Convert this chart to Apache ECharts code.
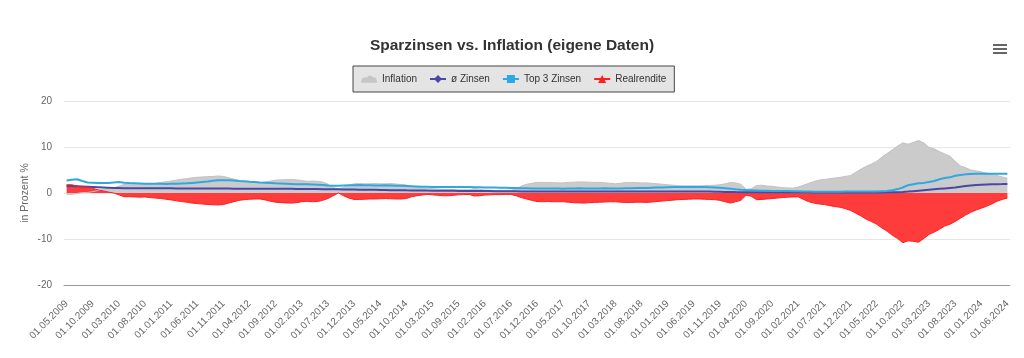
<!DOCTYPE html>
<html><head><meta charset="utf-8">
<script src="https://cdn.jsdelivr.net/npm/echarts@6/dist/echarts.min.js"></script>
<style>html,body{margin:0;padding:0;background:#fff}#c{width:1024px;height:358px}</style>
</head><body><div id="c"></div>
<script>
// Categories: monthly from 01.05.2009 to 01.06.2024 (source data skips one month in 2015)
const skippedMonth = '01.06.2015';
const categories = [];
(function () {
  let y = 2009, m = 5;
  while (y < 2024 || (y === 2024 && m <= 6)) {
    const s = '01.' + String(m).padStart(2, '0') + '.' + y;
    if (s !== skippedMonth) categories.push(s);
    m++; if (m > 12) { m = 1; y++; }
  }
})();

const yTicks = [-20, -10, 0, 10, 20];

const inflation = [
  -0.3,-0.3,-0.1,0.1,0.1,0.3,0.55,0.8,0.95,1.1,
  1.5,1.85,1.85,1.9,1.9,1.9,2.0,2.1,2.3,2.45,
  2.6,2.8,3.0,3.1,3.3,3.4,3.5,3.55,3.6,3.7,
  3.6,3.3,3.0,2.7,2.5,2.4,2.3,2.25,2.4,2.6,
  2.8,2.85,2.9,2.95,2.85,2.7,2.55,2.6,2.55,2.4,
  1.9,1.2,0.9,1.2,1.7,2.0,2.05,2.0,2.0,2.05,
  2.0,2.0,2.05,1.95,1.85,1.75,1.4,1.2,1.1,1.0,
  0.95,0.85,0.8,0.8,0.75,0.7,0.7,0.7,0.95,0.8,
  0.65,0.6,0.55,0.6,0.6,0.6,0.9,1.5,1.9,2.1,
  2.3,2.3,2.3,2.25,2.2,2.2,2.3,2.35,2.4,2.4,
  2.35,2.3,2.3,2.2,2.1,2.0,2.1,2.3,2.3,2.25,
  2.2,2.2,2.1,2.0,1.9,1.8,1.7,1.6,1.55,1.55,
  1.55,1.55,1.6,1.65,1.7,1.8,2.0,2.3,2.2,1.9,
  0.8,0.9,1.6,1.7,1.5,1.45,1.3,1.15,1.1,1.05,
  1.3,1.7,2.1,2.5,2.8,2.95,3.1,3.25,3.4,3.6,
  3.8,4.5,5.2,5.8,6.3,6.9,7.8,8.6,9.4,10.2,
  10.9,10.6,11.0,11.4,10.9,9.9,9.6,9.0,8.5,8.0,
  6.9,5.9,5.5,5.0,4.8,4.6,4.3,4.1,3.8,3.5,3.2
];

const avgRate = [
  1.5,1.5,1.45,1.4,1.35,1.3,1.25,1.2,1.15,1.1,
  1.1,1.05,1.05,1.05,1.05,1.05,1.05,1.05,1.05,1.05,
  1.05,1.0,1.0,1.0,1.0,1.0,1.0,1.0,1.0,1.0,
  1.0,1.0,0.95,0.95,0.95,0.95,0.95,0.9,0.9,0.9,
  0.9,0.9,0.9,0.9,0.88,0.88,0.87,0.85,0.85,0.83,
  0.82,0.8,0.8,0.78,0.77,0.75,0.73,0.72,0.7,0.68,
  0.66,0.64,0.62,0.61,0.6,0.58,0.57,0.55,0.54,0.52,
  0.51,0.5,0.49,0.48,0.47,0.46,0.45,0.45,0.44,0.43,
  0.42,0.41,0.4,0.39,0.38,0.37,0.36,0.35,0.34,0.33,
  0.32,0.31,0.3,0.3,0.3,0.3,0.3,0.3,0.3,0.3,
  0.3,0.3,0.3,0.3,0.3,0.3,0.3,0.3,0.3,0.3,
  0.3,0.3,0.32,0.33,0.34,0.35,0.35,0.35,0.35,0.35,
  0.34,0.33,0.32,0.3,0.28,0.26,0.24,0.22,0.2,0.19,
  0.18,0.17,0.17,0.16,0.16,0.15,0.15,0.15,0.15,0.15,
  0.15,0.14,0.14,0.13,0.13,0.12,0.12,0.12,0.12,0.12,
  0.12,0.12,0.12,0.12,0.12,0.12,0.13,0.14,0.16,0.18,
  0.22,0.3,0.4,0.5,0.6,0.7,0.8,0.9,1.0,1.1,
  1.2,1.35,1.5,1.65,1.75,1.8,1.85,1.9,1.92,1.93,1.95
];

const top3Rate = [
  2.7,2.9,3.0,2.6,2.3,2.25,2.2,2.2,2.2,2.3,
  2.4,2.25,2.15,2.1,2.05,2.0,2.0,2.0,2.0,1.95,
  2.0,2.0,2.05,2.1,2.2,2.3,2.4,2.5,2.65,2.75,
  2.75,2.75,2.7,2.6,2.55,2.45,2.4,2.3,2.25,2.2,
  2.1,2.05,2.0,1.95,1.9,1.9,1.9,1.85,1.8,1.75,
  1.65,1.6,1.6,1.65,1.7,1.7,1.75,1.7,1.7,1.65,
  1.65,1.7,1.65,1.6,1.55,1.5,1.45,1.4,1.35,1.35,
  1.3,1.3,1.3,1.3,1.3,1.3,1.3,1.3,1.25,1.25,
  1.2,1.2,1.2,1.15,1.15,1.1,1.1,1.05,1.05,1.0,
  1.0,1.0,1.0,1.0,1.0,0.95,1.0,1.0,1.05,1.0,
  1.0,1.0,1.0,1.05,1.0,1.0,1.0,1.05,1.05,1.1,
  1.1,1.1,1.15,1.2,1.2,1.25,1.3,1.3,1.3,1.3,
  1.3,1.3,1.3,1.25,1.2,1.15,1.05,0.95,0.8,0.72,
  0.65,0.6,0.55,0.5,0.5,0.45,0.45,0.45,0.45,0.4,
  0.4,0.35,0.3,0.25,0.25,0.25,0.25,0.25,0.25,0.3,
  0.3,0.3,0.3,0.3,0.35,0.35,0.4,0.45,0.6,0.85,
  1.2,1.7,1.9,2.1,2.2,2.4,2.6,3.0,3.25,3.4,
  3.75,3.9,4.05,4.15,4.2,4.2,4.2,4.2,4.2,4.2,4.2
];

const realReturn = [
  1.8,1.8,1.5,1.35,1.3,1.0,0.7,0.45,0.2,0.0,
  -0.4,-0.8,-0.8,-0.85,-0.9,-0.85,-1.0,-1.1,-1.2,-1.35,
  -1.5,-1.7,-1.85,-2.0,-2.2,-2.3,-2.4,-2.5,-2.55,-2.6,
  -2.5,-2.2,-1.9,-1.6,-1.45,-1.35,-1.3,-1.3,-1.5,-1.8,
  -2.0,-2.1,-2.15,-2.2,-2.1,-1.9,-1.8,-1.9,-1.85,-1.6,
  -1.2,-0.6,0.0,-0.6,-1.1,-1.4,-1.4,-1.35,-1.3,-1.3,
  -1.25,-1.2,-1.25,-1.3,-1.3,-1.2,-0.8,-0.6,-0.45,-0.3,
  -0.4,-0.5,-0.6,-0.6,-0.5,-0.4,-0.35,-0.3,-0.65,-0.6,
  -0.45,-0.4,-0.35,-0.35,-0.3,-0.3,-0.6,-1.0,-1.3,-1.6,
  -1.85,-1.9,-1.85,-1.9,-1.9,-1.9,-2.0,-2.1,-2.15,-2.2,
  -2.1,-2.05,-2.0,-1.95,-1.9,-1.9,-2.0,-2.05,-2.05,-2.0,
  -2.0,-2.05,-1.95,-1.85,-1.75,-1.65,-1.55,-1.45,-1.4,-1.35,
  -1.3,-1.3,-1.35,-1.4,-1.45,-1.6,-1.9,-2.2,-1.9,-1.6,
  -0.5,-0.7,-1.45,-1.4,-1.3,-1.2,-1.1,-1.0,-0.9,-0.85,
  -0.85,-1.4,-1.9,-2.2,-2.4,-2.5,-2.75,-2.95,-3.1,-3.4,
  -3.8,-4.4,-5.0,-5.7,-6.2,-6.8,-7.6,-8.3,-9.2,-9.9,
  -10.8,-10.4,-10.5,-10.7,-9.9,-9.0,-8.5,-7.9,-7.2,-6.8,
  -6.2,-5.5,-4.8,-4.2,-3.7,-3.3,-2.9,-2.4,-1.8,-1.4,-1.1
];

const FONT = '"Liberation Sans", Arial, Helvetica, sans-serif';
const chart = echarts.init(document.getElementById('c'), null, { renderer: 'canvas' });
chart.setOption({
  animation: false,
  backgroundColor: '#ffffff',
  textStyle: { fontFamily: FONT },
  title: {
    text: 'Sparzinsen vs. Inflation (eigene Daten)',
    left: 'center', top: 38, padding: 0,
    textStyle: { fontSize: 15.5, fontWeight: 'bold', color: '#333333', fontFamily: FONT }
  },
  legend: {
    top: 66, left: 353,
    padding: [8, 8],
    itemGap: 12, itemWidth: 16, itemHeight: 10,
    backgroundColor: '#e4e4e4', borderColor: '#444444', borderWidth: 1,
    textStyle: { fontSize: 10, color: '#333333', fontFamily: FONT },
    data: [
      { name: 'Inflation', icon: 'path://M0,10 C0,6 3,4 6,5 C7,2 11,2 12,5 C14,4 16,6 16,10 Z', itemStyle: { color: '#c6c6c6' } },
      { name: 'ø Zinsen' },
      { name: 'Top 3 Zinsen' },
      { name: 'Realrendite' }
    ]
  },
  grid: { left: 64, right: 14, top: 101, bottom: 73, containLabel: false },
  xAxis: {
    type: 'category', data: categories, boundaryGap: true,
    axisLine: { show: true, onZero: false, lineStyle: { color: '#999999' } },
    axisTick: { show: false },
    splitLine: { show: false },
    axisLabel: { interval: 4, rotate: 45, color: '#666666', fontSize: 10, margin: 17, fontFamily: FONT }
  },
  yAxis: {
    type: 'value', min: yTicks[0], max: yTicks[yTicks.length - 1], interval: 10,
    name: 'in Prozent %', nameLocation: 'middle', nameGap: 33, nameRotate: 90,
    nameMoveOverlap: false,
    nameTextStyle: { color: '#666666', fontSize: 10.5, fontFamily: FONT },
    axisLine: { show: false }, axisTick: { show: false },
    axisLabel: { color: '#666666', fontSize: 10, margin: 12, fontFamily: FONT },
    splitLine: { lineStyle: { color: '#e6e6e6', width: 1 } }
  },
  series: [
    { name: 'Inflation', type: 'line', data: inflation, symbol: 'circle', showSymbol: false,
      lineStyle: { color: '#c2c2c2', width: 1 }, itemStyle: { color: '#c6c6c6' },
      areaStyle: { color: '#cbcbcb', opacity: 1 } },
    { name: 'ø Zinsen', type: 'line', data: avgRate, symbol: 'diamond', symbolSize: 8, showSymbol: false,
      lineStyle: { color: '#4848a8', width: 2 }, itemStyle: { color: '#4848a8' } },
    { name: 'Top 3 Zinsen', type: 'line', data: top3Rate, symbol: 'rect', symbolSize: 7, showSymbol: false,
      lineStyle: { color: '#2ea8e1', width: 2 }, itemStyle: { color: '#2ea8e1' } },
    { name: 'Realrendite', type: 'line', data: realReturn, symbol: 'triangle', symbolSize: 8, showSymbol: false,
      lineStyle: { color: '#ff1f1f', width: 1 }, itemStyle: { color: '#ff1f1f' },
      areaStyle: { color: '#ff3c3c', opacity: 1 } }
  ],
  graphic: [{
    type: 'group', left: 993, top: 44, silent: true,
    children: [
      { type: 'rect', shape: { x: 0, y: 0, width: 14, height: 2 }, style: { fill: '#666666' } },
      { type: 'rect', shape: { x: 0, y: 4, width: 14, height: 2 }, style: { fill: '#666666' } },
      { type: 'rect', shape: { x: 0, y: 8, width: 14, height: 2 }, style: { fill: '#666666' } }
    ]
  }]
});
</script>
</body></html>
